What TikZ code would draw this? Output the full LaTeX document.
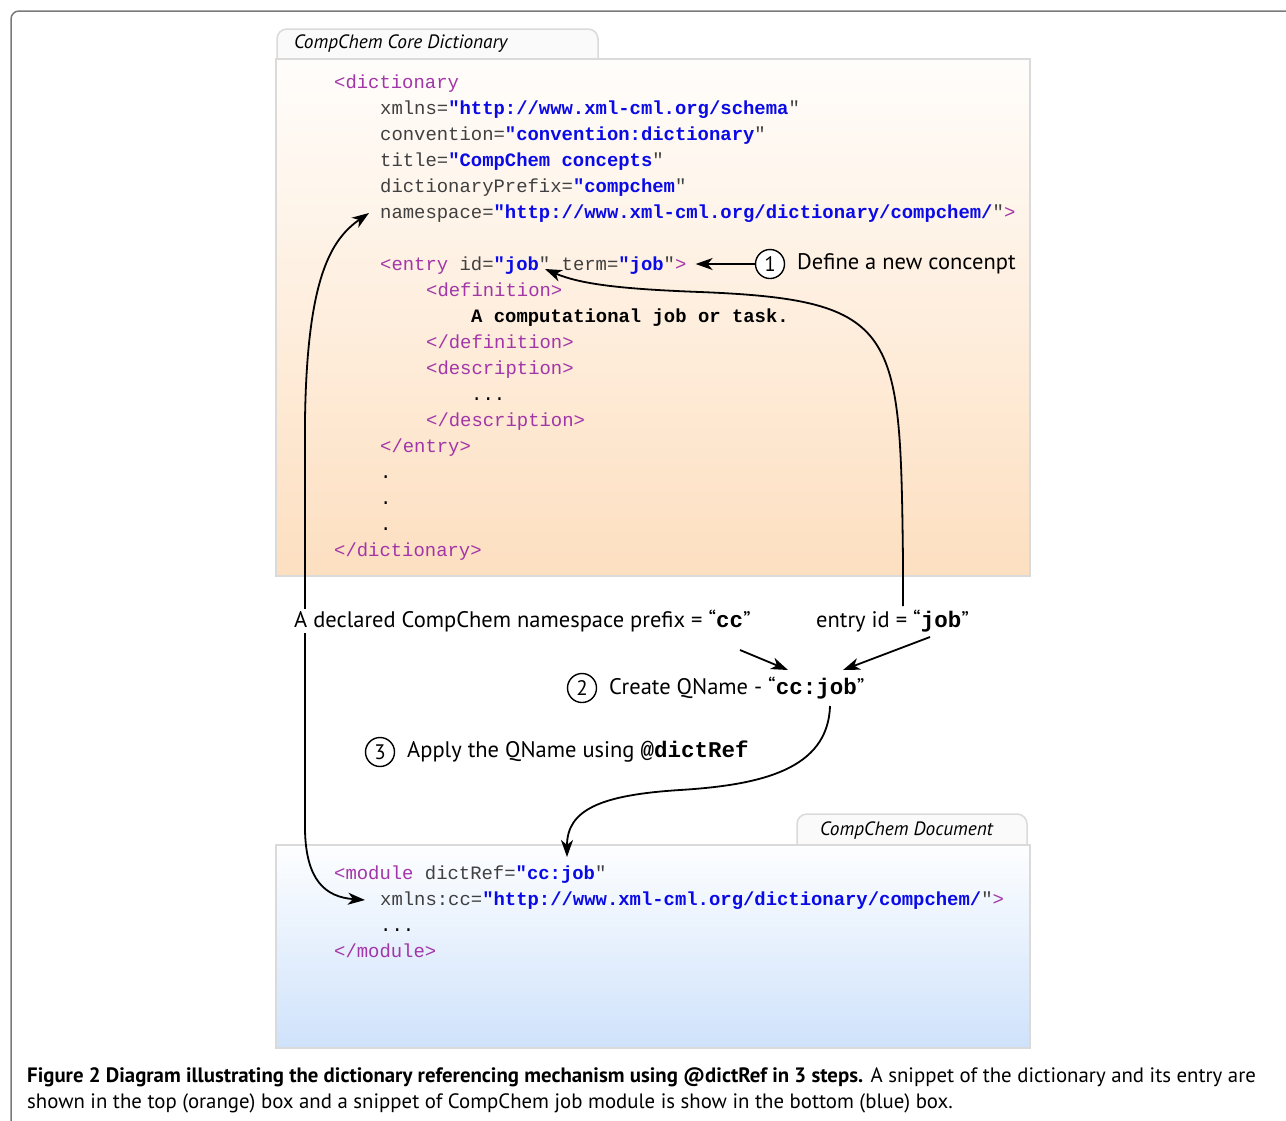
\documentclass[tikz,border=0pt]{standalone}
\usepackage{fontspec}
\setmainfont{PT Sans}
\setmonofont{Liberation Mono}
\usetikzlibrary{arrows.meta,calc}
\definecolor{tagc}{HTML}{A236A8}
\definecolor{attc}{HTML}{404040}
\definecolor{valc}{HTML}{0A0AE6}
\definecolor{framec}{HTML}{7A7A7A}
\definecolor{boxline}{HTML}{DADADA}
\definecolor{tabfill}{HTML}{FAFAFA}
\definecolor{orTop}{HTML}{FFFDFB}
\definecolor{orBot}{HTML}{FDDFC0}
\definecolor{blTop}{HTML}{FDFEFF}
\definecolor{blBot}{HTML}{CFE2FB}
\newcommand\codefont{\fontsize{18.9}{26}\selectfont\ttfamily}
\newcommand\labfont{\fontsize{22.5}{26}\selectfont}
\newcommand\xtag[1]{\textcolor{tagc}{#1}}
\newcommand\xatt[1]{\textcolor{attc}{#1}}
\newcommand\xval[1]{\textcolor{valc}{\bfseries #1}}
\tikzset{
  code/.style={anchor=base west, inner sep=0pt, font=\codefont},
  lab/.style={inner sep=1pt, font=\labfont},
  numc/.style={circle, draw, line width=1.4pt, fill=white, minimum size=29pt, inner sep=0pt, font=\fontsize{21}{25}\selectfont},
  arr/.style={line width=1.8pt, -{Stealth[length=17pt,width=12pt,inset=5pt]}},
  arrboth/.style={line width=1.8pt, {Stealth[length=17pt,width=12pt,inset=5pt]}-{Stealth[length=17pt,width=12pt,inset=5pt]}},
  tabbox/.style={draw=boxline, line width=1.5pt, fill=tabfill, rounded corners=10pt},
  tabtext/.style={anchor=west, inner sep=0pt, font=\fontsize{19.3}{22}\selectfont\itshape},
}
\begin{document}
\begin{tikzpicture}[x=1pt,y=-1pt]
\useasboundingbox (0,0) rectangle (1286,1120);
% outer frame
\draw[framec, line width=1.5pt, rounded corners=8pt] (11,1130) -- (11,11) -- (1296,11);

% top box
\draw[tabbox] (277,62) -- (277,29) -- (598,29) -- (598,62);
\node[tabtext] (tab1) at (294,44) {CompChem Core Dictionary};
\shade[top color=orTop, bottom color=orBot] (276,59) rectangle (1030,576);
\draw[boxline, line width=1.5pt] (276,59) rectangle (1030,576);

% code of top box
\node[code] (l1) at (334,88) {\xtag{<dictionary}};
\node[code] (l2) at (380,114) {\xatt{xmlns=}\xval{"http://www.xml-cml.org/schema}\xatt{"}};
\node[code] (l3) at (380,140) {\xatt{convention=}\xval{"convention:dictionary}\xatt{"}};
\node[code] (l4) at (380,166) {\xatt{title=}\xval{"CompChem concepts}\xatt{"}};
\node[code] (l5) at (380,192) {\xatt{dictionaryPrefix=}\xval{"compchem}\xatt{"}};
\node[code] (l6) at (380,218) {\xatt{namespace=}\xval{"http://www.xml-cml.org/dictionary/compchem/}\xatt{"}\xtag{>}};
\node[code] (l8) at (380,270) {\xtag{<entry} \xatt{id=}\xval{"job}\xatt{"} \xatt{term=}\xval{"job}\xatt{"}\xtag{>}};
\node[code] (l9) at (426,296) {\xtag{<definition>}};
\node[code] (l10) at (471,322) {\bfseries A computational job or task.};
\node[code] (l11) at (426,348) {\xtag{</definition>}};
\node[code] (l12) at (426,374) {\xtag{<description>}};
\node[code] (l13) at (471,400) {...};
\node[code] (l14) at (426,426) {\xtag{</description>}};
\node[code] (l15) at (380,452) {\xtag{</entry>}};
\node[code] (l16) at (380,478) {.};
\node[code] (l17) at (380,504) {.};
\node[code] (l18) at (380,530) {.};
\node[code] (l19) at (334,556) {\xtag{</dictionary>}};

% bottom box
\draw[tabbox] (797,848) -- (797,814) -- (1027,814) -- (1027,848);
\node[tabtext] (tab2) at (820,831) {CompChem Document};
\shade[top color=blTop, bottom color=blBot] (276,845) rectangle (1030,1048);
\draw[boxline, line width=1.5pt] (276,845) rectangle (1030,1048);

\node[code] (m1) at (334,879) {\xtag{<module} \xatt{dictRef=}\xval{"cc:job}\xatt{"}};
\node[code] (m2) at (380,905) {\xatt{xmlns:cc=}\xval{"http://www.xml-cml.org/dictionary/compchem/}\xatt{"}\xtag{>}};
\node[code] (m3) at (380,931) {...};
\node[code] (m4) at (334,957) {\xtag{</module>}};

% step 1
\node[numc] (c1) at (770,264) {1};
\node[lab, anchor=west] (def) at (796,264) {Define a new concenpt};
\draw[arr] (c1.west) -- ([xshift=9pt]l8.east |- c1.west);

% namespace connector (drawn before the label that interrupts it)
\draw[arrboth] ([shift={(-15pt,5pt)}]m2.base west) .. controls (325,897) and (306,880) .. (305,830) -- (305,420) .. controls (307,280) and (330,240) .. ([shift={(-11pt,5pt)}]l6.base west);

% labels
\node[lab, anchor=west, fill=white] (pref) at (293,621) {A declared CompChem namespace prefix = “{\ttfamily\bfseries cc}”};
\node[lab, anchor=west] (eid) at (815,621) {entry id = “{\ttfamily\bfseries job}”};

% step 2
\node[numc] (c2) at (582,688) {2};
\node[lab, anchor=west] (qn) at (608,688) {Create QName - “{\ttfamily\bfseries cc:job}”};

% step 3
\node[numc] (c3) at (380,752) {3};
\node[lab, anchor=west] (ap) at (406,752) {Apply the QName using {\ttfamily\bfseries @dictRef}};

% connectors
\coordinate (eidtop) at (903,606);
\coordinate (jobtip) at ($(l8.base west)+(165pt,1pt)$);
\draw[arr] (eidtop) -- (903,560) .. controls (900,330) and (900,300) .. (700,292) .. controls (620,289) and (580,284) .. (jobtip);

\coordinate (prefout) at (740,650);
\coordinate (eidout) at (930,637);
\coordinate (qnin1) at (788,670);
\coordinate (qnin2) at (843,670);
\draw[arr] (prefout) -- (qnin1);
\draw[arr] (eidout) -- (qnin2);

\coordinate (qnout) at (830,706);
\coordinate (modin) at (567,857);
\draw[arr] (qnout) .. controls (828,770) and (760,785) .. (680,790) .. controls (600,795) and (567,810) .. (modin);

% caption
\node[anchor=base west, inner sep=0pt, font=\fontsize{20.8}{26}\selectfont] (cap1) at (27,1082) {\textbf{Figure 2 Diagram illustrating the dictionary referencing mechanism using @dictRef in 3 steps.} A snippet of the dictionary and its entry are};
\node[anchor=base west, inner sep=0pt, font=\fontsize{20.8}{26}\selectfont] (cap2) at (27,1108) {shown in the top (orange) box and a snippet of CompChem job module is show in the bottom (blue) box.};
\end{tikzpicture}
\end{document}
